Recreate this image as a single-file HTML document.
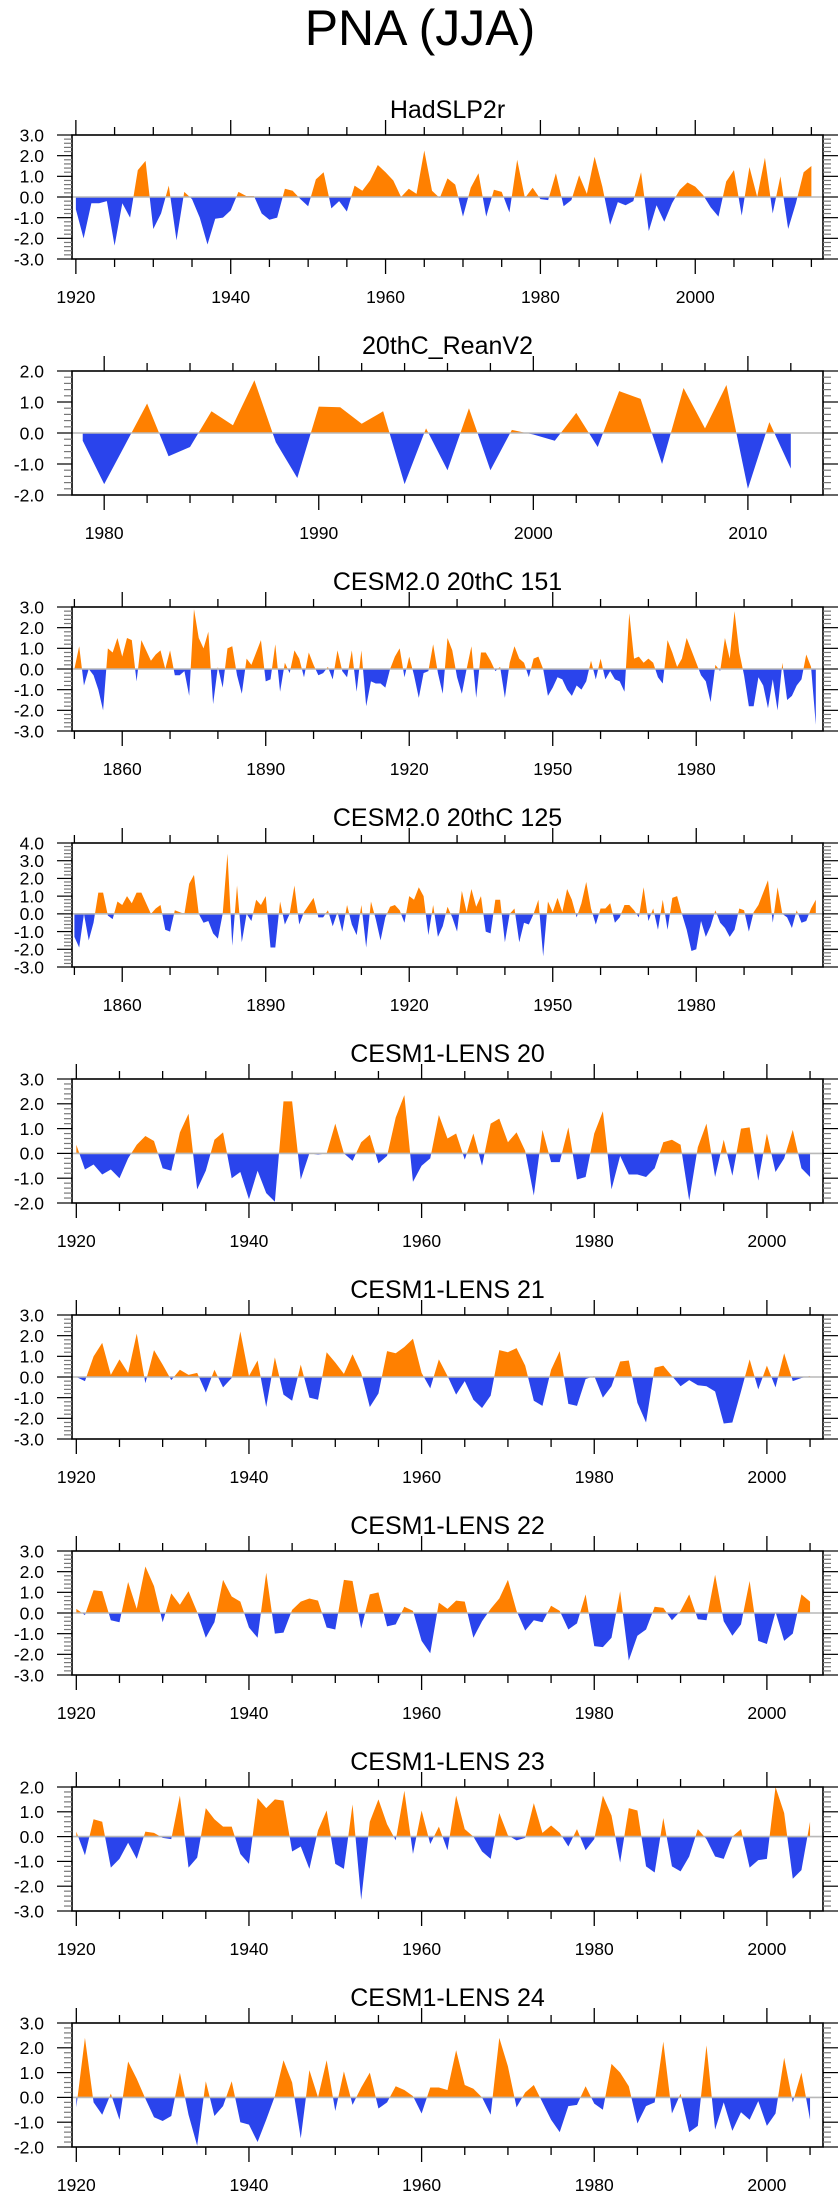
<!DOCTYPE html>
<html><head><meta charset="utf-8"><title>PNA (JJA)</title>
<style>
html,body{margin:0;padding:0;background:#fff;}
svg{display:block;font-family:"Liberation Sans",Arial,sans-serif;}
</style></head>
<body>
<svg id="chart" width="840" height="2200" viewBox="0 0 840 2200" xmlns="http://www.w3.org/2000/svg">
<text x="420" y="45" text-anchor="middle" font-size="50" fill="#000">PNA (JJA)</text>
</svg>
<script>
const hadYears0 = 1920;
const hadValues = [-0.6,-2.0,-0.3,-0.3,-0.2,-2.35,-0.3,-1.0,1.3,1.75,
-1.55,-0.8,0.55,-2.1,0.25,-0.1,-1.0,-2.3,-1.05,-1.0,
-0.65,0.25,0.05,0.05,-0.8,-1.1,-1.0,0.4,0.3,-0.1,
-0.45,0.85,1.2,-0.55,-0.2,-0.7,0.55,0.3,0.8,1.55,
1.2,0.8,0.0,0.4,0.15,2.25,0.3,-0.05,0.9,0.6,
-0.95,0.45,1.15,-0.95,0.35,0.25,-0.75,1.8,-0.05,0.45,
-0.1,-0.15,1.15,-0.45,-0.15,1.05,0.15,1.95,0.5,-1.35,
-0.25,-0.4,-0.2,1.2,-1.65,-0.4,-1.2,-0.3,0.35,0.7,
0.5,0.1,-0.5,-0.95,0.75,1.3,-0.9,1.45,0.0,1.9,
-0.8,1.0,-1.55,-0.3,1.2,1.5];
const reanYears0 = 1979;
const reanValues = [-0.25,-1.65,-0.35,0.95,-0.75,-0.45,0.7,0.25,1.7,-0.3,
-1.45,0.85,0.83,0.3,0.7,-1.65,0.15,-1.2,0.8,-1.2,
0.1,-0.05,-0.25,0.65,-0.45,1.35,1.1,-1.0,1.45,0.15,
1.55,-1.8,0.35,-1.15];
const cesm2Years0 = 1850;
const cesm151Values = [0.0,1.1,-0.8,0.0,-0.3,-1.0,-2.0,1.0,0.8,1.5,
0.6,1.5,1.4,-0.6,1.4,0.9,0.4,0.7,0.9,0.0,
0.9,-0.3,-0.3,-0.1,-1.3,2.9,1.5,1.0,1.8,-1.7,
0.1,-0.9,1.0,1.1,-0.3,-1.2,0.5,0.2,0.8,1.4,
-0.6,-0.5,1.2,-1.1,0.3,-0.2,0.9,0.5,-0.4,0.8,
0.2,-0.3,-0.2,0.1,-0.5,0.9,-0.1,-0.4,0.9,-1.1,
0.9,-1.8,-0.6,-0.7,-0.7,-0.9,0.0,0.6,1.0,-0.4,
0.6,-0.3,-1.4,-0.2,-0.1,1.2,-0.2,-1.2,1.5,0.9,
-0.4,-1.2,0.0,1.1,-1.4,0.8,0.8,0.4,-0.1,0.1,
-1.4,0.3,1.1,0.5,0.3,-0.4,0.5,0.6,0.0,-1.3,
-0.9,-0.4,-0.5,-1.0,-1.3,-0.8,-1.0,-0.6,0.4,-0.5,
0.5,-0.5,-0.1,-0.5,-0.6,-1.1,2.7,0.5,0.6,0.3,
0.5,0.3,-0.4,-0.7,1.4,0.8,0.1,0.5,1.5,0.9,
0.3,-0.3,-0.6,-1.6,0.2,-0.1,1.5,0.5,2.8,0.8,
-0.3,-1.8,-1.8,-0.4,-0.8,-1.9,-0.5,-2.0,0.3,-1.5,
-1.3,-0.8,-0.5,0.7,0.1,-2.7];
const cesm125Values = [-1.3,-1.9,0.0,-1.5,-0.5,1.2,1.2,-0.1,-0.3,0.7,
0.5,1.0,0.6,1.2,1.2,0.6,0.0,0.3,0.5,-0.9,
-1.0,0.2,0.1,0.0,1.7,2.2,0.0,-0.5,-0.4,-1.1,
-1.4,0.0,3.4,-1.8,1.6,-1.6,0.0,-0.4,0.8,0.5,
1.0,-1.9,-1.9,0.7,-0.6,0.0,1.6,-0.6,0.1,0.5,
0.9,-0.2,-0.2,0.2,-0.7,0.1,-1.0,0.5,-0.6,-1.2,
0.5,-1.9,0.7,-0.3,-1.5,-0.2,0.4,0.5,0.2,-0.5,
1.0,0.8,1.5,1.0,-1.2,0.5,-1.3,-0.7,0.4,-0.2,
-1.0,1.3,0.1,1.4,0.4,1.0,-1.0,-1.1,0.8,0.8,
-1.6,0.0,0.3,-1.6,-0.5,-0.6,0.0,0.8,-2.4,0.7,
0.1,0.9,0.1,1.4,0.8,-0.2,0.6,1.8,0.3,-0.6,
0.3,0.3,0.6,-0.5,-0.2,0.5,0.5,0.2,-0.2,1.5,
-0.4,0.3,-0.9,0.8,-0.9,0.9,1.0,0.0,-0.9,-2.1,
-2.0,-0.4,-1.3,-0.7,0.2,-0.5,-0.8,-1.3,-0.9,0.3,
0.2,-1.0,0.1,0.5,1.2,1.9,-0.5,1.5,0.0,-0.2,
-0.8,0.2,-0.5,-0.4,0.3,0.8];
const lensYears0 = 1920;
const lens20Values = [0.35,-0.65,-0.45,-0.85,-0.65,-1.0,-0.2,0.35,0.7,0.5,
-0.6,-0.7,0.85,1.6,-1.45,-0.7,0.55,0.85,-1.0,-0.75,
-1.85,-0.7,-1.6,-1.95,2.1,2.1,-1.05,0,-0.05,0,
1.2,0,-0.3,0.45,0.75,-0.4,-0.1,1.45,2.35,-1.15,
-0.5,-0.2,1.55,0.6,0.8,-0.25,0.8,-0.5,1.2,1.4,
0.45,0.85,0.1,-1.7,0.95,-0.35,-0.35,1.05,-1.05,-0.95,
0.8,1.7,-1.45,-0.1,-0.85,-0.85,-0.95,-0.6,0.45,0.55,
0.35,-1.9,0.25,1.2,-0.95,0.55,-0.9,1.0,1.05,-1.1,
0.8,-0.75,-0.2,0.95,-0.6,-0.95];
const lens21Values = [0,-0.2,1.0,1.65,0.1,0.85,0.2,2.1,-0.3,1.3,
0.6,-0.15,0.35,0.1,0.2,-0.75,0.35,-0.5,-0.05,2.2,
0.05,0.8,-1.45,0.95,-0.85,-1.15,0.6,-1.0,-1.1,1.2,
0.7,0.15,1.1,0.2,-1.45,-0.8,1.25,1.15,1.45,1.85,
0.2,-0.55,0.85,0.05,-0.85,-0.2,-1.1,-1.5,-0.9,1.3,
1.2,1.4,0.55,-1.15,-1.4,0.35,1.25,-1.3,-1.4,-0.1,
0.05,-1.0,-0.45,0.75,0.8,-1.25,-2.2,0.45,0.55,0.05,
-0.45,-0.15,-0.4,-0.45,-0.7,-2.25,-2.2,-0.7,0.85,-0.6,
0.55,-0.5,1.15,-0.2,-0.05,0.05];
const lens22Values = [0.2,-0.1,1.1,1.05,-0.35,-0.45,1.5,0.2,2.25,1.3,
-0.45,0.95,0.4,1.05,0.05,-1.2,-0.45,1.6,0.8,0.55,
-0.7,-1.2,1.95,-1.0,-0.95,0.15,0.55,0.7,0.6,-0.7,
-0.8,1.6,1.55,-0.75,0.9,1.0,-0.65,-0.55,0.3,0.1,
-1.35,-1.95,0.5,0.2,0.6,0.55,-1.2,-0.4,0.2,0.7,
1.6,0.1,-0.85,-0.35,-0.45,0.35,0.1,-0.8,-0.5,0.9,
-1.6,-1.65,-1.2,1.05,-2.3,-1.1,-0.8,0.3,0.25,-0.35,
0.1,0.9,-0.3,-0.35,1.85,-0.4,-1.1,-0.55,1.55,-1.35,
-1.5,0.05,-1.35,-1.0,0.9,0.55];
const lens23Values = [0.2,-0.75,0.7,0.6,-1.25,-0.9,-0.25,-0.9,0.2,0.15,
-0.05,-0.1,1.65,-1.25,-0.85,1.15,0.7,0.4,0.4,-0.7,
-1.1,1.55,1.15,1.5,1.45,-0.6,-0.4,-1.3,0.25,1.05,
-1.1,-1.3,1.3,-2.55,0.6,1.5,0.5,-0.15,1.85,-0.7,
1.05,-0.3,0.4,-0.55,1.65,0.3,0,-0.6,-0.9,0.95,
0.05,-0.15,-0.05,1.35,0.15,0.45,0.15,-0.4,0.3,-0.55,
-0.1,1.65,0.85,-1.05,1.15,1.05,-1.2,-1.45,0.75,-1.2,
-1.4,-0.8,0.3,-0.1,-0.8,-0.9,0,0.3,-1.25,-0.95,
-0.9,2.0,0.95,-1.7,-1.35,0.6];
const lens24Values = [-0.4,2.4,-0.2,-0.7,0.15,-0.9,1.45,0.75,-0.05,-0.8,
-0.95,-0.75,1.0,-0.7,-1.95,0.65,-0.75,-0.35,0.65,-1.0,
-1.1,-1.8,-0.9,0.05,1.5,0.6,-1.65,1.1,0,1.5,
-0.55,1.05,-0.3,0.4,1.0,-0.45,-0.2,0.45,0.3,0.05,
-0.65,0.4,0.4,0.3,1.9,0.5,0.35,0,-0.7,2.4,
1.25,-0.4,0.2,0.5,-0.2,-0.9,-1.4,-0.35,-0.3,0.45,
-0.25,-0.5,1.35,1.0,0.45,-1.05,-0.35,-0.2,2.25,-0.65,
0.15,-1.4,-1.15,2.1,-1.3,-0.2,-1.35,-0.6,-0.9,-0.15,
-1.15,-0.65,1.6,-0.2,1.0,-0.9];
const panelTitles = ["HadSLP2r","20thC_ReanV2","CESM2.0 20thC 151","CESM2.0 20thC 125","CESM1-LENS 20","CESM1-LENS 21","CESM1-LENS 22","CESM1-LENS 23","CESM1-LENS 24"];

const NS = "http://www.w3.org/2000/svg";
const svg = document.getElementById("chart");
const panels = [
 {t:0, v:hadValues, y0:hadYears0, xr:[1919.5,2016.5], yr:[-3,3], mn:5, mj:20, mjA:1920},
 {t:1, v:reanValues, y0:reanYears0, xr:[1978.5,2013.5], yr:[-2,2], mn:2, mj:10, mjA:1980},
 {t:2, v:cesm151Values, y0:cesm2Years0, xr:[1849.5,2006.5], yr:[-3,3], mn:10, mj:30, mjA:1860},
 {t:3, v:cesm125Values, y0:cesm2Years0, xr:[1849.5,2006.5], yr:[-3,4], mn:10, mj:30, mjA:1860},
 {t:4, v:lens20Values, y0:lensYears0, xr:[1919.5,2006.5], yr:[-2,3], mn:5, mj:20, mjA:1920},
 {t:5, v:lens21Values, y0:lensYears0, xr:[1919.5,2006.5], yr:[-3,3], mn:5, mj:20, mjA:1920},
 {t:6, v:lens22Values, y0:lensYears0, xr:[1919.5,2006.5], yr:[-3,3], mn:5, mj:20, mjA:1920},
 {t:7, v:lens23Values, y0:lensYears0, xr:[1919.5,2006.5], yr:[-3,2], mn:5, mj:20, mjA:1920},
 {t:8, v:lens24Values, y0:lensYears0, xr:[1919.5,2006.5], yr:[-2,3], mn:5, mj:20, mjA:1920}
];
function mk(tag, attrs, parent){
  const e = document.createElementNS(NS, tag);
  for (const k in attrs) e.setAttribute(k, attrs[k]);
  (parent||svg).appendChild(e);
  return e;
}
const L = 72, R = 823, H = 124;
panels.forEach((p, i) => {
  const top = 135 + 236*i, bot = top + H;
  const g = mk("g", {});
  
  
  const xs = yr => L + (yr - p.xr[0]) / (p.xr[1]-p.xr[0]) * (R-L);
  const ys = v => bot - (v - p.yr[0]) / (p.yr[1]-p.yr[0]) * H;
  const zy = ys(0);
  // title
  const tt = mk("text", {x:(L+R)/2, y:top-17, "text-anchor":"middle", "font-size":25, fill:"#000"}, g);
  tt.textContent = panelTitles[p.t];
  
  
  // area
  const cid = "c"+i;
  const defs = mk("defs", {}, g);
  const c1 = mk("clipPath", {id:cid+"p"}, defs);
  mk("rect", {x:L, y:top, width:R-L, height:zy-top}, c1);
  const c2 = mk("clipPath", {id:cid+"n"}, defs);
  mk("rect", {x:L, y:zy, width:R-L, height:bot-zy}, c2);
  let pts = xs(p.y0).toFixed(2)+","+zy.toFixed(2);
  p.v.forEach((v, k) => { pts += " " + xs(p.y0+k).toFixed(2) + "," + ys(v).toFixed(2); });
  pts += " " + xs(p.y0+p.v.length-1).toFixed(2)+","+zy.toFixed(2);
  const pa = mk("polygon", {points:pts, fill:"#ff8000", "clip-path":"url(#"+cid+"p)"}, g);
  
  
  const na = mk("polygon", {points:pts, fill:"#2a44ec", "clip-path":"url(#"+cid+"n)"}, g);
  
  
  const zl = mk("line", {x1:L, x2:R, y1:zy, y2:zy, stroke:"#b8b8b8", "stroke-width":1.6}, g);
  
  
  // box
  const bx = mk("rect", {x:L, y:top, width:R-L, height:H, fill:"none", stroke:"#000", "stroke-width":1.6}, g);
  
  
  // x ticks
  const startT = Math.ceil(p.xr[0]/p.mn)*p.mn;
  for (let yv = startT; yv <= p.xr[1]; yv += p.mn) {
    const major = ((yv - p.mjA) % p.mj + p.mj) % p.mj === 0;
    const len = major ? 15 : 8;
    const x = xs(yv);
    mk("line", {x1:x, x2:x, y1:bot, y2:bot+len, stroke:"#000", "stroke-width":1.3}, g);
    mk("line", {x1:x, x2:x, y1:top, y2:top-len, stroke:"#000", "stroke-width":1.3}, g);
    if (major) {
      const lb = mk("text", {x:x, y:bot+44, "text-anchor":"middle", "font-size":17.5, fill:"#000"}, g);
      lb.textContent = String(yv);
      
      
    }
  }
  // y ticks
  for (let k = Math.round(p.yr[0]*5); k <= Math.round(p.yr[1]*5); k++) {
    const v = k/5, y = ys(v), major = (k % 5 === 0);
    const len = major ? 15 : 8;
    const col = major ? "#000" : "#777";
    mk("line", {x1:L-len, x2:L, y1:y, y2:y, stroke:col, "stroke-width":1.2}, g);
    mk("line", {x1:R, x2:R+len, y1:y, y2:y, stroke:col, "stroke-width":1.2}, g);
    if (major) {
      const lb = mk("text", {x:44, y:y+6.3, "text-anchor":"end", "font-size":17.5, fill:"#000"}, g);
      lb.textContent = v.toFixed(1);
      
      
    }
  }
});
</script>
</body></html>
